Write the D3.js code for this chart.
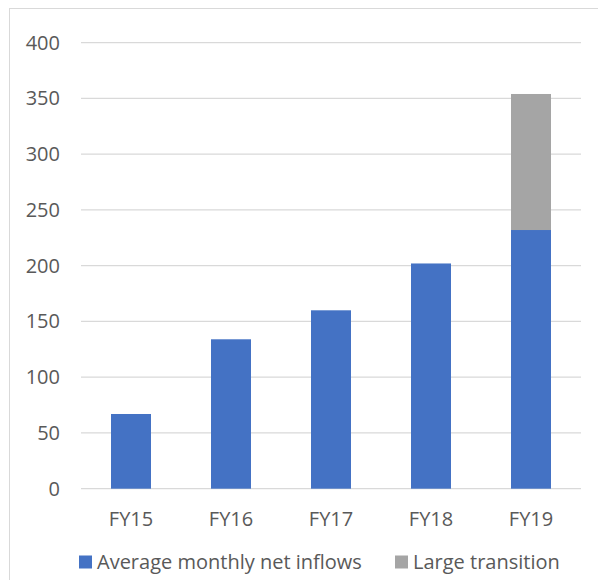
<!DOCTYPE html>
<html>
<head>
<meta charset="utf-8">
<script src="https://cdn.jsdelivr.net/npm/d3@7"></script>
<style>
  body { margin: 0; background: #fff; }
  svg text { font-family: "Open Sans", sans-serif; fill: #595959; }
</style>
</head>
<body>
<svg class="chart"></svg>
<script>
const size = {w: 598, h: 580};

// chart values
const years = ['FY15', 'FY16', 'FY17', 'FY18', 'FY19'];
const inflows = [67, 134, 160, 202, 232];
const transition = [0, 0, 0, 0, 122];
const yTicks = [0, 50, 100, 150, 200, 250, 300, 350, 400];
const seriesNames = ['Average monthly net inflows', 'Large transition'];
const seriesColors = ['#4472C4', '#A5A5A5'];

const margin = {left: 81, right: 17, top: 42.7, bottom: 91.3};

const svg = d3.select('svg.chart')
    .attr('width', size.w)
    .attr('height', size.h);

// chart area border
svg.append('rect')
    .attr('x', 9.5).attr('y', 8.5)
    .attr('width', size.w).attr('height', size.h)
    .attr('fill', 'none')
    .attr('stroke', '#d9d9d9');

const x = d3.scaleBand()
    .domain(years)
    .range([margin.left, size.w - margin.right])
    .paddingInner(0.6)
    .paddingOuter(0.3);

const y = d3.scaleLinear()
    .domain([0, 400])
    .range([size.h - margin.bottom, margin.top]);

// gridlines
svg.append('g')
    .selectAll('line')
    .data(yTicks)
    .join('line')
    .attr('x1', margin.left)
    .attr('x2', size.w - margin.right)
    .attr('y1', d => y(d))
    .attr('y2', d => y(d))
    .attr('stroke', '#d9d9d9')
    .attr('stroke-width', 1.3);

// y tick labels
svg.append('g')
    .selectAll('text')
    .data(yTicks)
    .join('text')
    .attr('x', 60)
    .attr('y', d => y(d))
    .attr('dy', '0.35em')
    .attr('text-anchor', 'end')
    .style('font-size', '20px')
    .text(d => d);

// stacked bars
const rows = years.map((yr, i) => ({year: yr, a: inflows[i], b: transition[i]}));
const stacked = d3.stack().keys(['a', 'b'])(rows);

svg.append('g')
    .selectAll('g')
    .data(stacked)
    .join('g')
    .attr('fill', (d, i) => seriesColors[i])
    .selectAll('rect')
    .data(d => d.filter(p => p[1] > p[0]))
    .join('rect')
    .attr('x', d => x(d.data.year))
    .attr('width', x.bandwidth())
    .attr('y', d => y(d[1]))
    .attr('height', d => y(d[0]) - y(d[1]));

// x labels
svg.append('g')
    .selectAll('text')
    .data(years)
    .join('text')
    .attr('x', d => x(d) + x.bandwidth() / 2)
    .attr('y', 519)
    .attr('dy', '0.35em')
    .attr('text-anchor', 'middle')
    .style('font-size', '20px')
    .text(d => d);

// legend
const legendX = [79, 395];
const legend = svg.append('g')
    .selectAll('g')
    .data(seriesNames)
    .join('g')
    .attr('transform', (d, i) => `translate(${legendX[i]},555.5)`);

legend.append('rect')
    .attr('width', 13).attr('height', 13)
    .attr('fill', (d, i) => seriesColors[i]);

legend.append('text')
    .attr('x', 18)
    .attr('y', 6.5)
    .attr('dy', '0.35em')
    .style('font-size', '20px')
    .text(d => d);
</script>
</body>
</html>
